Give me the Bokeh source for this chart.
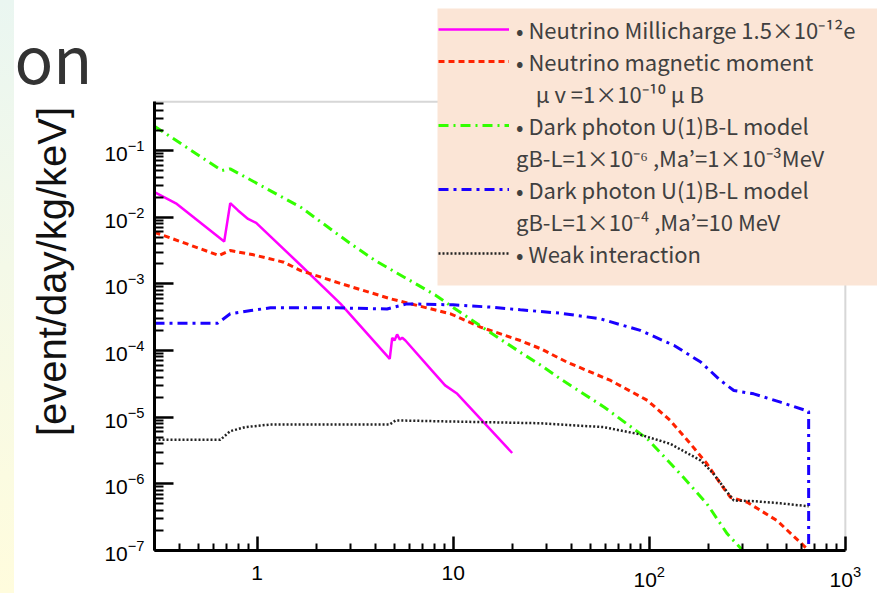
import math
from bokeh.plotting import figure
from bokeh.models import (FixedTicker, LogTickFormatter, Legend, LegendItem, Label, Div,
                          BoxAnnotation)
from bokeh.layouts import row
from bokeh.embed import file_html
from bokeh.resources import INLINE
from bokeh.core.properties import value

# ---------------- data ----------------
mc_E = [0.3, 0.39, 0.68, 0.73, 0.80, 0.90, 0.99, 1.67, 2.67, 4.75, 4.89, 5.02, 5.18,
        5.35, 5.50, 5.71, 7.8, 9.1, 10.5, 20.0]
mc_R = [2.37e-2, 1.58e-2, 4.3e-3, 1.62e-2, 1.26e-2, 9.4e-3, 8.2e-3, 1.9e-3, 5.0e-4,
        7.5e-5, 1.55e-4, 1.41e-4, 1.74e-4, 1.46e-4, 1.55e-4, 1.41e-4, 5.0e-5, 3.0e-5,
        2.24e-5, 2.9e-6]

mm_E = [0.3, 0.64, 0.73, 0.96, 1.37, 1.67, 2.7, 4.8, 9.7, 13.8, 22, 28, 38, 63.5, 98,
        128, 162, 197, 231, 259, 316, 449, 640]
mm_R = [5.94e-3, 2.66e-3, 3.16e-3, 2.72e-3, 2.11e-3, 1.58e-3, 1.0e-3, 5.96e-4, 3.55e-4,
        2.24e-4, 1.41e-4, 1.06e-4, 6.7e-5, 3.55e-5, 1.78e-5, 8.9e-6, 4.0e-6, 2.0e-6,
        1.0e-6, 6.3e-7, 5.3e-7, 2.8e-7, 1.05e-7]

dp1_E = [0.3, 0.66, 0.73, 1.67, 3.0, 4.0, 8.1, 10.5, 14.9, 22, 28, 35, 59, 98, 144,
         197, 250, 300]
dp1_R = [0.231, 0.050, 0.053, 0.0141, 0.0040, 0.00224, 6.8e-4, 4.0e-4, 2.0e-4, 9.4e-5,
         6.0e-5, 3.8e-5, 1.41e-5, 4.7e-6, 1.41e-6, 5.0e-7, 1.78e-7, 1.0e-7]

dp2_E = [0.3, 0.63, 0.73, 0.93, 1.17, 2.56, 4.6, 5.8, 10, 15.5, 22, 35, 56, 90, 134,
         183, 231, 270, 341, 467, 650, 650]
dp2_R = [2.57e-4, 2.57e-4, 3.55e-4, 3.98e-4, 4.36e-4, 4.36e-4, 4.2e-4, 5.0e-4, 4.84e-4,
         4.47e-4, 4.08e-4, 3.63e-4, 3.0e-4, 2.0e-4, 1.19e-4, 6.7e-5, 3.55e-5, 2.51e-5,
         2.24e-5, 1.68e-5, 1.22e-5, 1.0e-7]

wk_E = [0.3, 0.65, 0.73, 0.87, 1.17, 3.0, 4.75, 5.08, 5.5, 28, 58.7, 87, 128, 183,
        213, 250, 270, 341, 467, 650]
wk_R = [4.57e-6, 4.57e-6, 6.17e-6, 7.08e-6, 7.76e-6, 7.76e-6, 7.76e-6, 8.9e-6, 8.9e-6,
        8.1e-6, 7.08e-6, 5.62e-6, 3.98e-6, 2.24e-6, 1.41e-6, 7.5e-7, 5.62e-7, 5.5e-7,
        5.1e-7, 4.6e-7]

labels = [
    "\u2022 Neutrino Millicharge 1.5\u00d710\u207b\u00b9\u00b2e",
    "\u2022 Neutrino magnetic moment",
    "\u00a0\u00a0\u00a0\u00a0\u03bc v =1\u00d710\u207b\u00b9\u2070 \u03bc B",
    "\u2022 Dark photon U(1)B-L model",
    "gB-L=1\u00d710\u207b\u2076 ,Ma\u2019=1\u00d710\u207b\u00b3MeV",
    "\u2022 Dark photon U(1)B-L model",
    "gB-L=1\u00d710\u207b\u2074 ,Ma\u2019=10 MeV",
    "\u2022 Weak interaction",
]
y_label = "[event/day/kg/keV]"
title_fragment = "on"

X_LO, X_HI = 0.3, 1000      # plotted region of the chart
Y_LO, Y_HI = 1e-7, 0.54

# --- page geometry: the frame fills the whole figure, axes sit at fixed spots ---
PX_DEC_X, PX_DEC_Y = 196.1, 66.67     # pixels per decade
FIG_W, FIG_H = 863, 593
AX_LEFT, AX_BOTTOM = 140, 550         # plot box corner inside the figure (px)
x_start = 10 ** (math.log10(X_LO) - AX_LEFT / PX_DEC_X)
x_end = 10 ** (math.log10(X_LO) + (FIG_W - AX_LEFT) / PX_DEC_X)
y_start = 10 ** (math.log10(Y_LO) - (FIG_H - AX_BOTTOM) / PX_DEC_Y)
y_end = 10 ** (math.log10(Y_LO) + AX_BOTTOM / PX_DEC_Y)

p = figure(frame_width=FIG_W, frame_height=FIG_H,
           x_axis_type="log", y_axis_type="log",
           x_range=(x_start, x_end), y_range=(y_start, y_end),
           output_backend="svg", toolbar_location=None,
           min_border=0, margin=0)
p.background_fill_color = "white"
p.border_fill_color = "white"
p.xgrid.visible = False
p.ygrid.visible = False
p.outline_line_color = None

x_major = [1, 10, 100, 1000]
x_minor = [m * 10.0 ** k for k in range(-1, 3) for m in range(2, 10)]
y_major = [10.0 ** k for k in range(-7, 0)]
y_minor = [m * 10.0 ** k for k in range(-8, 0) for m in range(2, 10)]

p.xaxis.ticker = FixedTicker(ticks=x_major, minor_ticks=[t for t in x_minor if t >= X_LO])
p.yaxis.ticker = FixedTicker(ticks=y_major, minor_ticks=[t for t in y_minor if Y_LO <= t < Y_HI])
p.xaxis.formatter = LogTickFormatter(min_exponent=2)
p.yaxis.formatter = LogTickFormatter()
p.xaxis.bounds = (X_LO, X_HI)
p.yaxis.bounds = (Y_LO, Y_HI)
p.xaxis.fixed_location = Y_LO
p.yaxis.fixed_location = X_LO

for ax in (p.xaxis[0], p.yaxis[0]):
    ax.axis_line_width = 3
    ax.axis_line_color = "black"
    ax.major_tick_out = 0
    ax.minor_tick_out = 0
    ax.major_tick_line_width = 2.5
    ax.minor_tick_line_width = 2
    ax.major_tick_line_color = "black"
    ax.minor_tick_line_color = "black"
    ax.major_label_text_font = "Liberation Sans"
    ax.major_label_text_font_size = "21px"
    ax.major_label_text_color = "black"
p.yaxis.major_tick_in = 19
p.yaxis.minor_tick_in = 9
p.xaxis.major_tick_in = 14
p.xaxis.minor_tick_in = 7
p.yaxis.major_label_standoff = 10
p.xaxis.major_label_standoff = 15

# plot box outline (top / right sides show; left / bottom are under the axes)
p.add_layout(BoxAnnotation(left=X_LO, right=X_HI, bottom=Y_LO, top=Y_HI,
                           fill_alpha=0, line_color="#7a7a7a", line_width=2,
                           level="underlay"))

r_mc = p.line(mc_E, mc_R, line_color="#FF00FF", line_width=2.5)
r_mm = p.line(mm_E, mm_R, line_color="#FF2200", line_width=3, line_dash="6 4")
r_dp1 = p.line(dp1_E, dp1_R, line_color="#33FF00", line_width=3, line_dash="10 5 2 5")
r_dp2 = p.line(dp2_E, dp2_R, line_color="#1A00FF", line_width=3, line_dash="10 5 3 5")
r_wk = p.line(wk_E, wk_R, line_color="#222222", line_width=2.5, line_dash="2 2")
r_blank = p.line(x=[], y=[], line_alpha=0)

# legend background box (canvas x 437..877, y 8..285)
p.add_layout(BoxAnnotation(left=423, right=FIG_W + 5, top=FIG_H - 8, bottom=FIG_H - 285,
                           left_units="screen", right_units="screen",
                           top_units="screen", bottom_units="screen",
                           fill_color="#FBE5D6", fill_alpha=1, line_color=None))

items = [
    LegendItem(label=value(labels[0]), renderers=[r_mc]),
    LegendItem(label=value(labels[1]), renderers=[r_mm]),
    LegendItem(label=value(labels[2]), renderers=[r_blank]),
    LegendItem(label=value(labels[3]), renderers=[r_dp1]),
    LegendItem(label=value(labels[4]), renderers=[r_blank]),
    LegendItem(label=value(labels[5]), renderers=[r_dp2]),
    LegendItem(label=value(labels[6]), renderers=[r_blank]),
    LegendItem(label=value(labels[7]), renderers=[r_wk]),
]
legend = Legend(items=items, location=(424, FIG_H - 269))
legend.label_text_font = "Noto Sans CJK JP"
legend.label_text_font_size = "22px"
legend.label_text_color = "#404040"
legend.glyph_width = 71
legend.glyph_height = 32
legend.label_height = 32
legend.label_standoff = 7
legend.spacing = 0
legend.padding = 0
legend.margin = 0
legend.background_fill_alpha = 0
legend.border_line_color = None
p.add_layout(legend)

p.add_layout(Label(x=37, y=FIG_H - 271, x_units="screen", y_units="screen", text=y_label,
                   angle=math.pi / 2, text_align="center", text_baseline="middle",
                   text_font="Liberation Sans", text_font_size="40px",
                   text_color="#111111"))
p.add_layout(Label(x=0, y=FIG_H - 55, x_units="screen", y_units="screen",
                   text=title_fragment, text_align="left", text_baseline="middle",
                   text_font="Noto Sans CJK JP", text_font_size="64px",
                   text_color="#333333"))

strip = Div(width=14, height=593, margin=0, text="",
            styles={"background": "linear-gradient(to bottom, #EAF6F1, #F4F9E8 45%, #FFFCDD)"})
layout = row(strip, p, spacing=0, margin=0)

open("out.html", "w").write(file_html(layout, INLINE))
